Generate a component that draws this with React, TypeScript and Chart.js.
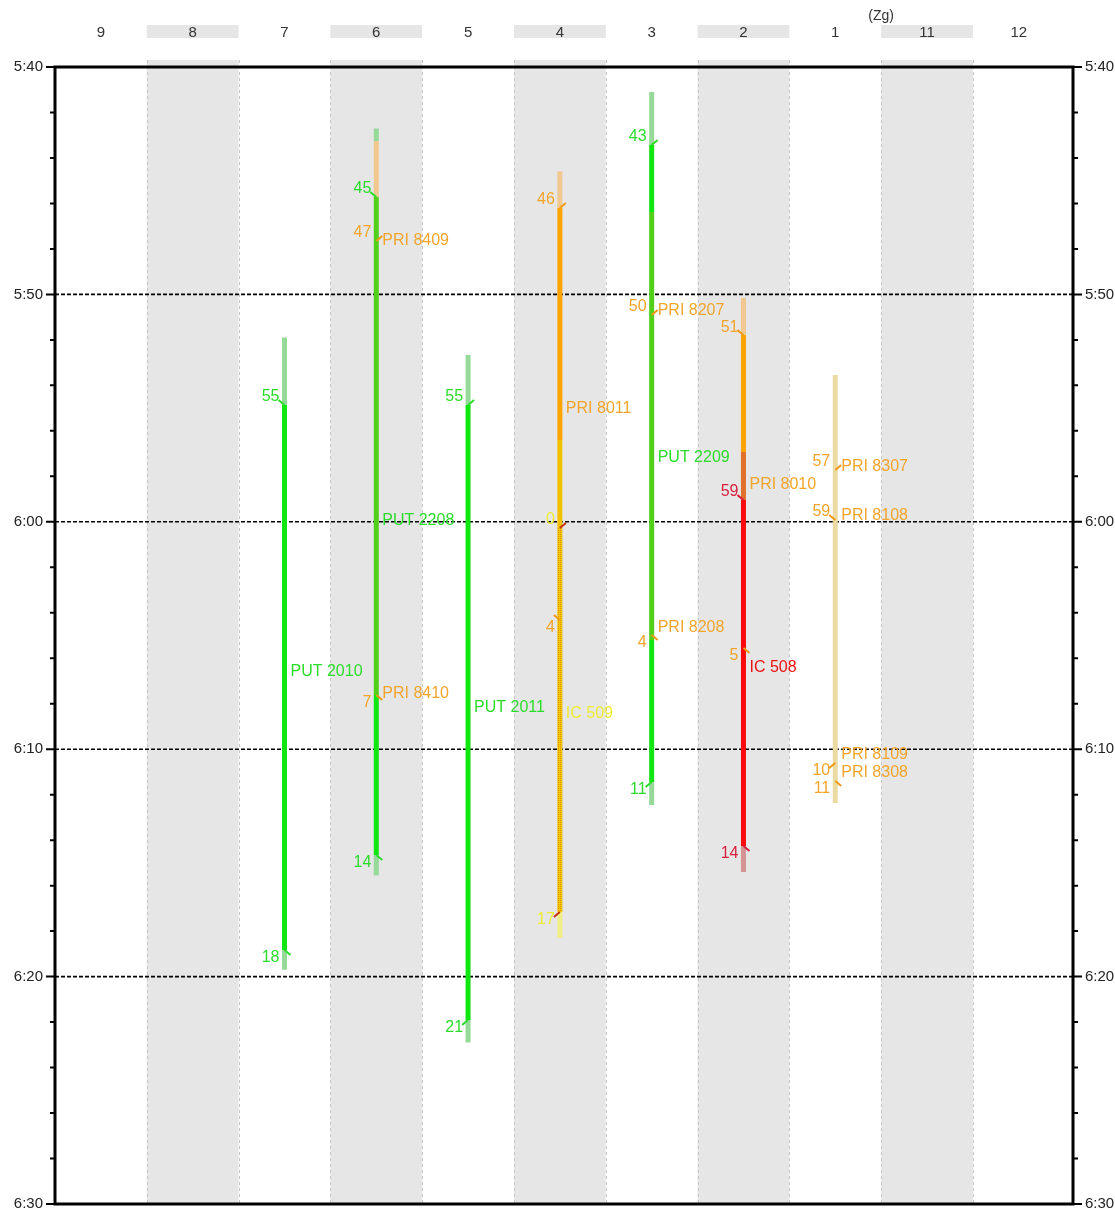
import React, { useEffect, useRef } from "react";
import { Chart, registerables } from "chart.js";

Chart.register(...registerables);

const FONT = '"Liberation Sans", Arial, Helvetica, sans-serif';

// Track columns, left to right
const columns = ["9", "8", "7", "6", "5", "4", "3", "2", "1", "11", "12"];
const shadedColumns = [1, 3, 5, 7, 9];
const groupLabel = "(Zg)";
const groupLabelPos = 8.5;

// Time axis: minutes after 5:40
const majorTimes = [0, 10, 20, 30, 40, 50];
const timeLabels = ["5:40", "5:50", "6:00", "6:10", "6:20", "6:30"];
const minorTimes = [0, 2, 4, 6, 8, 10, 12, 14, 16, 18, 20, 22, 24, 26, 28, 30, 32, 34, 36, 38, 40, 42, 44, 46, 48, 50];

// Occupation segments: [column, start (min), end (min), kind]
const segments: [number, number, number, string][] = [
  [2, 11.9, 14.86, "fadeGreen"],
  [2, 14.86, 38.83, "green"],
  [2, 38.83, 39.7, "fadeGreen"],

  [3, 2.7, 3.25, "fadeGreen"],
  [3, 3.25, 5.72, "fadeTan"],
  [3, 5.72, 27.62, "mixGreen"],
  [3, 27.62, 34.65, "green"],
  [3, 34.65, 35.55, "fadeGreen"],

  [4, 12.66, 14.86, "fadeGreen"],
  [4, 14.86, 41.91, "green"],
  [4, 41.91, 42.9, "fadeGreen"],

  [5, 4.6, 6.2, "fadeTan"],
  [5, 6.2, 16.4, "orange"],
  [5, 16.4, 20.27, "amber"],
  [5, 20.27, 37.16, "hatch"],
  [5, 37.16, 38.3, "fadeYellow"],

  [6, 1.1, 3.43, "fadeGreen"],
  [6, 3.43, 6.38, "green"],
  [6, 6.38, 25.2, "mixGreen"],
  [6, 25.2, 31.44, "green"],
  [6, 31.44, 32.45, "fadeGreen"],

  [7, 10.16, 11.79, "fadeTan"],
  [7, 11.79, 16.93, "orange"],
  [7, 16.93, 19.04, "darkOrange"],
  [7, 19.04, 34.26, "red"],
  [7, 34.26, 35.4, "fadeRed"],

  [8, 13.54, 32.37, "sand"],
];

// Arrival / departure events: column, time, minute text, colour, kind (a/d), hook direction
const events: { col: number; t: number; text: string; color: string; kind: string; hook: string; hookColor?: string }[] = [
  { col: 2, t: 14.86, text: "55", color: "green", kind: "a", hook: "ul" },
  { col: 2, t: 38.83, text: "18", color: "green", kind: "d", hook: "dr" },
  { col: 3, t: 5.72, text: "45", color: "green", kind: "a", hook: "ul" },
  { col: 3, t: 7.65, text: "47", color: "orange", kind: "a", hook: "ur" },
  { col: 3, t: 27.62, text: "7", color: "orange", kind: "d", hook: "dr" },
  { col: 3, t: 34.65, text: "14", color: "green", kind: "d", hook: "dr" },
  { col: 4, t: 14.86, text: "55", color: "green", kind: "a", hook: "ur" },
  { col: 4, t: 41.91, text: "21", color: "green", kind: "d", hook: "dl" },
  { col: 5, t: 6.2, text: "46", color: "orange", kind: "a", hook: "ur" },
  { col: 5, t: 20.27, text: "0", color: "yellow", kind: "a", hook: "ur", hookColor: "darkRed" },
  { col: 5, t: 24.32, text: "4", color: "orange", kind: "d", hook: "ul" },
  { col: 5, t: 37.16, text: "17", color: "yellow", kind: "d", hook: "dl", hookColor: "darkRed" },
  { col: 6, t: 3.43, text: "43", color: "green", kind: "a", hook: "ur" },
  { col: 6, t: 10.91, text: "50", color: "orange", kind: "a", hook: "ur" },
  { col: 6, t: 24.98, text: "4", color: "orange", kind: "d", hook: "dr" },
  { col: 6, t: 31.44, text: "11", color: "green", kind: "d", hook: "dl" },
  { col: 7, t: 11.79, text: "51", color: "orange", kind: "a", hook: "ul" },
  { col: 7, t: 19.04, text: "59", color: "crimson", kind: "a", hook: "ul" },
  { col: 7, t: 25.55, text: "5", color: "orange", kind: "d", hook: "dr" },
  { col: 7, t: 34.26, text: "14", color: "crimson", kind: "d", hook: "dr" },
  { col: 8, t: 17.72, text: "57", color: "orange", kind: "a", hook: "ur" },
  { col: 8, t: 19.92, text: "59", color: "orange", kind: "a", hook: "ul" },
  { col: 8, t: 30.61, text: "10", color: "orange", kind: "d", hook: "dl" },
  { col: 8, t: 31.4, text: "11", color: "orange", kind: "d", hook: "dr" },
];

// Train names: [column, time, text, colour]
const trainNames: [number, number, string, string][] = [
  [2, 26.6, "PUT 2010", "green"],
  [3, 7.65, "PRI 8409", "orange"],
  [3, 19.96, "PUT 2208", "green"],
  [3, 27.57, "PRI 8410", "orange"],
  [4, 28.19, "PUT 2011", "green"],
  [5, 15.0, "PRI 8011", "orange"],
  [5, 28.45, "IC 509", "yellow"],
  [6, 10.73, "PRI 8207", "orange"],
  [6, 17.19, "PUT 2209", "green"],
  [6, 24.67, "PRI 8208", "orange"],
  [7, 18.38, "PRI 8010", "orange"],
  [7, 26.43, "IC 508", "red"],
  [8, 17.59, "PRI 8307", "orange"],
  [8, 19.74, "PRI 8108", "orange"],
  [8, 30.25, "PRI 8109", "orange"],
  [8, 31.05, "PRI 8308", "orange"],
];

const textColors: Record<string, string> = {
  green: "#2cdc2c",
  orange: "#f2a52a",
  red: "#ee1111",
  crimson: "#d81e3c",
  yellow: "#eeec30",
  darkRed: "#c8300f",
};

export default function App() {
  const ref = useRef<HTMLCanvasElement>(null);

  useEffect(() => {
    const canvas = ref.current!;
    const pc = document.createElement("canvas");
    pc.width = 2;
    pc.height = 2;
    const pctx = pc.getContext("2d")!;
    pctx.fillStyle = "#f5c400";
    pctx.fillRect(0, 0, 2, 2);
    pctx.fillStyle = "#dc9410";
    pctx.fillRect(0, 0, 1, 1);
    const hatch = canvas.getContext("2d")!.createPattern(pc, "repeat")!;

    const barColors: Record<string, any> = {
      fadeGreen: "#95da98",
      fadeTan: "#f0c890",
      green: "#10e610",
      mixGreen: "#52cf18",
      orange: "#ffa300",
      amber: "#f3c000",
      hatch,
      fadeYellow: "#f1ee88",
      darkOrange: "#e0702a",
      red: "#fa0a0a",
      fadeRed: "#d49494",
      sand: "#ebdaa2",
    };

    const datasets = segments.map(([c, s, e, k]) => ({
      data: [
        { x: c, y: s },
        { x: c, y: e },
      ],
      borderColor: barColors[k],
      backgroundColor: barColors[k],
      borderWidth: 5,
      pointRadius: 0,
      borderCapStyle: "butt" as const,
      fill: false,
    }));

    const bg = {
      id: "bg",
      beforeDraw(chart: any) {
        const { ctx, chartArea: a, scales } = chart;
        const x = scales.x;
        const y = scales.y;
        ctx.save();
        ctx.fillStyle = "#ffffff";
        ctx.fillRect(0, 0, chart.width, chart.height);
        for (const i of shadedColumns) {
          const l = x.getPixelForValue(i - 0.5);
          const r = x.getPixelForValue(i + 0.5);
          ctx.fillStyle = "#e6e6e6";
          ctx.fillRect(l, 25, r - l, 13);
          ctx.fillRect(l, a.top - 7, r - l, a.bottom - a.top + 7);
          ctx.strokeStyle = "#c6c6c6";
          ctx.lineWidth = 1;
          ctx.setLineDash([3, 3]);
          for (const xx of [l, r]) {
            ctx.beginPath();
            ctx.moveTo(Math.round(xx) + 0.5, a.top - 7);
            ctx.lineTo(Math.round(xx) + 0.5, a.bottom);
            ctx.stroke();
          }
        }
        ctx.setLineDash([4, 2]);
        ctx.strokeStyle = "#000000";
        ctx.lineWidth = 1.6;
        for (const v of majorTimes) {
          if (v <= 0 || v >= 50) continue;
          const py = y.getPixelForValue(v);
          ctx.beginPath();
          ctx.moveTo(a.left, py);
          ctx.lineTo(a.right, py);
          ctx.stroke();
        }
        ctx.restore();
      },
    };

    const fg = {
      id: "fg",
      afterDatasetsDraw(chart: any) {
        const { ctx, chartArea: a, scales } = chart;
        const x = scales.x;
        const y = scales.y;
        ctx.save();
        ctx.setLineDash([]);
        // hooks
        for (const ev of events) {
          const px = x.getPixelForValue(ev.col);
          const py = y.getPixelForValue(ev.t);
          const sx = ev.hook[1] === "r" ? 1 : -1;
          const sy = ev.hook[0] === "u" ? -1 : 1;
          ctx.strokeStyle = textColors[ev.hookColor || ev.color];
          if (ev.color === "orange" && !ev.hookColor) ctx.strokeStyle = "#f09a18";
          ctx.lineWidth = 2;
          ctx.beginPath();
          ctx.moveTo(px, py);
          ctx.lineTo(px + sx * 6, py + sy * 5);
          ctx.stroke();
        }
        // minute labels
        ctx.font = `16px ${FONT}`;
        ctx.textBaseline = "middle";
        ctx.textAlign = "right";
        for (const ev of events) {
          const px = x.getPixelForValue(ev.col);
          const py = y.getPixelForValue(ev.t);
          ctx.fillStyle = textColors[ev.color];
          ctx.fillText(ev.text, px - 5, py + (ev.kind === "a" ? -8 : 8));
        }
        // train names
        ctx.textAlign = "left";
        for (const [c, t, text, col] of trainNames) {
          ctx.fillStyle = textColors[col];
          ctx.fillText(text, x.getPixelForValue(c) + 6, y.getPixelForValue(t));
        }
        // group label
        ctx.textAlign = "center";
        ctx.font = `14px ${FONT}`;
        ctx.fillStyle = "#333333";
        ctx.fillText(groupLabel, x.getPixelForValue(groupLabelPos), 16);
        // frame
        ctx.strokeStyle = "#000000";
        ctx.lineWidth = 3;
        ctx.strokeRect(a.left, a.top, a.right - a.left, a.bottom - a.top);
        // ticks
        ctx.lineWidth = 2;
        for (const v of minorTimes) {
          const py = y.getPixelForValue(v);
          const len = majorTimes.includes(v) ? 9 : 5;
          ctx.beginPath();
          ctx.moveTo(a.left - len, py);
          ctx.lineTo(a.left, py);
          ctx.moveTo(a.right, py);
          ctx.lineTo(a.right + len, py);
          ctx.stroke();
        }
        ctx.restore();
      },
    };

    const yAxis = (position: "left" | "right", width: number) => ({
      type: "linear" as const,
      position,
      min: 0,
      max: 50,
      reverse: true,
      afterBuildTicks: (s: any) => {
        s.ticks = majorTimes.map((v) => ({ value: v }));
      },
      afterFit: (s: any) => {
        s.width = width;
        s.paddingTop = 0;
        s.paddingBottom = 7;
      },
      ticks: {
        callback: (v: any) => {
          const i = majorTimes.indexOf(Number(v));
          return i >= 0 ? timeLabels[i] : "";
        },
        font: { family: FONT, size: 15 },
        color: "#222222",
        padding: 2,
      },
      grid: { display: false, drawTicks: true, tickLength: 10 },
      border: { display: false },
    });

    const chart = new Chart(canvas, {
      type: "line",
      data: { datasets },
      plugins: [bg, fg],
      options: {
        animation: false,
        responsive: false,
        maintainAspectRatio: false,
        events: [],
        layout: { padding: 0 },
        plugins: { legend: { display: false }, tooltip: { enabled: false } },
        scales: {
          x: {
            type: "linear",
            position: "top",
            min: -0.5,
            max: 10.59,
            afterBuildTicks: (s: any) => {
              s.ticks = columns.map((_, i) => ({ value: i }));
            },
            afterFit: (s: any) => {
              s.height = 67;
            },
            ticks: {
              callback: (v: any) => columns[Number(v)] ?? "",
              font: { family: FONT, size: 15 },
              color: "#333333",
              padding: 25,
              maxRotation: 0,
              autoSkip: false,
            },
            grid: { display: false, drawTicks: false },
            border: { display: false },
          },
          y: yAxis("left", 55),
          y2: yAxis("right", 42),
        },
      } as any,
    });

    return () => chart.destroy();
  }, []);

  return (
    <div style={{ position: "absolute", left: 0, top: 0, width: 1115, height: 1211, background: "#ffffff" }}>
      <canvas ref={ref} width={1115} height={1211} style={{ display: "block" }} />
    </div>
  );
}
